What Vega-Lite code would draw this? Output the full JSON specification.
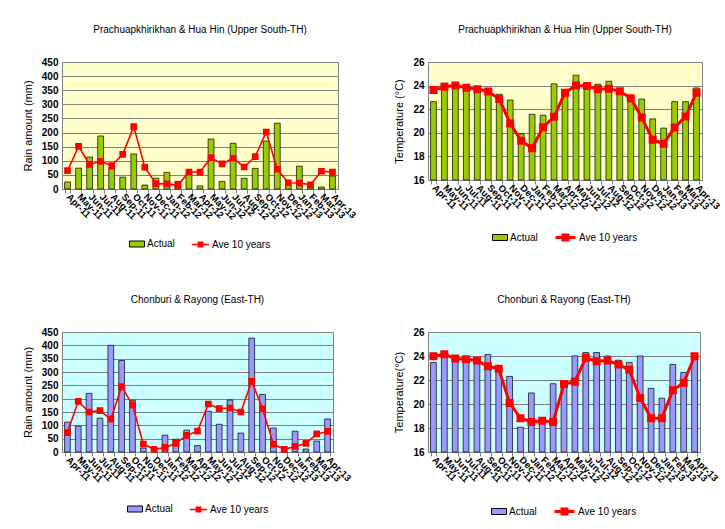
{
  "$schema": "https://vega.github.io/schema/vega-lite/v6.json",
  "background": "white",
  "padding": {"left": 21, "top": 24, "right": 5, "bottom": 5},
  "datasets": {
    "climate": [
      {"region": "US", "month": "Apr-11", "rainActual": 25, "rainAve": 65, "tempActual": 22.64, "tempAve": 23.62},
      {"region": "US", "month": "May-11", "rainActual": 74, "rainAve": 151, "tempActual": 24.2, "tempAve": 23.9},
      {"region": "US", "month": "Jun-11", "rainActual": 113, "rainAve": 87, "tempActual": 24.1, "tempAve": 24.0},
      {"region": "US", "month": "Jul-11", "rainActual": 188, "rainAve": 98, "tempActual": 23.62, "tempAve": 23.82},
      {"region": "US", "month": "Aug-11", "rainActual": 71, "rainAve": 83, "tempActual": 23.7, "tempAve": 23.7},
      {"region": "US", "month": "Sep-11", "rainActual": 42, "rainAve": 123, "tempActual": 23.6, "tempAve": 23.5},
      {"region": "US", "month": "Oct-11", "rainActual": 124, "rainAve": 221, "tempActual": 23.27, "tempAve": 22.86},
      {"region": "US", "month": "Nov-11", "rainActual": 14, "rainAve": 77, "tempActual": 22.78, "tempAve": 20.79},
      {"region": "US", "month": "Dec-11", "rainActual": 38, "rainAve": 19, "tempActual": 19.92, "tempAve": 19.33},
      {"region": "US", "month": "Jan-12", "rainActual": 59, "rainAve": 18, "tempActual": 21.57, "tempAve": 18.69},
      {"region": "US", "month": "Feb-12", "rainActual": 27, "rainAve": 13, "tempActual": 21.49, "tempAve": 20.48},
      {"region": "US", "month": "Mar-12", "rainActual": 55, "rainAve": 60, "tempActual": 24.15, "tempAve": 21.35},
      {"region": "US", "month": "Apr-12", "rainActual": 11, "rainAve": 60, "tempActual": 23.45, "tempAve": 23.4},
      {"region": "US", "month": "May-12", "rainActual": 177, "rainAve": 111, "tempActual": 24.88, "tempAve": 24.0},
      {"region": "US", "month": "Jun-12", "rainActual": 27, "rainAve": 89, "tempActual": 23.98, "tempAve": 23.96},
      {"region": "US", "month": "Jul-12", "rainActual": 162, "rainAve": 109, "tempActual": 24.12, "tempAve": 23.7},
      {"region": "US", "month": "Aug-12", "rainActual": 38, "rainAve": 78, "tempActual": 24.37, "tempAve": 23.73},
      {"region": "US", "month": "Sep-12", "rainActual": 73, "rainAve": 115, "tempActual": 23.68, "tempAve": 23.53},
      {"region": "US", "month": "Oct-12", "rainActual": 170, "rainAve": 202, "tempActual": 22.92, "tempAve": 22.92},
      {"region": "US", "month": "Nov-12", "rainActual": 233, "rainAve": 70, "tempActual": 22.86, "tempAve": 21.29},
      {"region": "US", "month": "Dec-12", "rainActual": 15, "rainAve": 22, "tempActual": 21.18, "tempAve": 19.41},
      {"region": "US", "month": "Jan-13", "rainActual": 81, "rainAve": 21, "tempActual": 20.4, "tempAve": 19.08},
      {"region": "US", "month": "Feb-13", "rainActual": 13, "rainAve": 15, "tempActual": 22.64, "tempAve": 20.45},
      {"region": "US", "month": "Mar-13", "rainActual": 7, "rainAve": 63, "tempActual": 22.64, "tempAve": 21.38},
      {"region": "US", "month": "Apr-13", "rainActual": 46, "rainAve": 60, "tempActual": 23.8, "tempAve": 23.4},
      {"region": "E", "month": "Apr-11", "rainActual": 112, "rainAve": 73, "tempActual": 23.46, "tempAve": 23.98},
      {"region": "E", "month": "May-11", "rainActual": 97, "rainAve": 190, "tempActual": 24.26, "tempAve": 24.15},
      {"region": "E", "month": "Jun-11", "rainActual": 220, "rainAve": 150, "tempActual": 23.79, "tempAve": 23.79},
      {"region": "E", "month": "Jul-11", "rainActual": 127, "rainAve": 155, "tempActual": 23.73, "tempAve": 23.73},
      {"region": "E", "month": "Aug-11", "rainActual": 400, "rainAve": 123, "tempActual": 23.6, "tempAve": 23.62},
      {"region": "E", "month": "Sep-11", "rainActual": 343, "rainAve": 245, "tempActual": 24.12, "tempAve": 23.15},
      {"region": "E", "month": "Oct-11", "rainActual": 194, "rainAve": 177, "tempActual": 23.15, "tempAve": 22.93},
      {"region": "E", "month": "Nov-11", "rainActual": 15, "rainAve": 30, "tempActual": 22.3, "tempAve": 20.09},
      {"region": "E", "month": "Dec-11", "rainActual": 4, "rainAve": 10, "tempActual": 18.07, "tempAve": 18.82},
      {"region": "E", "month": "Jan-12", "rainActual": 63, "rainAve": 17, "tempActual": 20.92, "tempAve": 18.51},
      {"region": "E", "month": "Feb-12", "rainActual": 48, "rainAve": 32, "tempActual": 18.5, "tempAve": 18.6},
      {"region": "E", "month": "Mar-12", "rainActual": 82, "rainAve": 62, "tempActual": 21.69, "tempAve": 18.51},
      {"region": "E", "month": "Apr-12", "rainActual": 24, "rainAve": 78, "tempActual": 21.88, "tempAve": 21.66},
      {"region": "E", "month": "May-12", "rainActual": 153, "rainAve": 180, "tempActual": 24.01, "tempAve": 21.86},
      {"region": "E", "month": "Jun-12", "rainActual": 104, "rainAve": 163, "tempActual": 24.29, "tempAve": 23.85},
      {"region": "E", "month": "Jul-12", "rainActual": 195, "rainAve": 165, "tempActual": 24.29, "tempAve": 23.57},
      {"region": "E", "month": "Aug-12", "rainActual": 71, "rainAve": 150, "tempActual": 24.0, "tempAve": 23.62},
      {"region": "E", "month": "Sep-12", "rainActual": 427, "rainAve": 265, "tempActual": 23.65, "tempAve": 23.3},
      {"region": "E", "month": "Oct-12", "rainActual": 216, "rainAve": 162, "tempActual": 23.46, "tempAve": 22.85},
      {"region": "E", "month": "Nov-12", "rainActual": 90, "rainAve": 29, "tempActual": 24.0, "tempAve": 20.5},
      {"region": "E", "month": "Dec-12", "rainActual": 3, "rainAve": 10, "tempActual": 21.3, "tempAve": 18.82},
      {"region": "E", "month": "Jan-13", "rainActual": 78, "rainAve": 21, "tempActual": 20.48, "tempAve": 18.82},
      {"region": "E", "month": "Feb-13", "rainActual": 11, "rainAve": 32, "tempActual": 23.3, "tempAve": 21.14},
      {"region": "E", "month": "Mar-13", "rainActual": 41, "rainAve": 68, "tempActual": 22.63, "tempAve": 21.77},
      {"region": "E", "month": "Apr-13", "rainActual": 124, "rainAve": 77, "tempActual": 23.8, "tempAve": 23.98}
    ]
  },
  "data": {"name": "climate"},
  "columns": 2,
  "bounds": "flush",
  "spacing": {"row": 143, "column": 90},
  "resolve": {
    "scale": {"x": "independent", "y": "independent", "fill": "independent", "stroke": "independent"},
    "legend": {"fill": "independent", "stroke": "independent"}
  },
  "concat": [
    {
      "width": 276, "height": 127,
      "view": {"fill": "#FFFFCC", "stroke": "#808080"},
      "title": {"text": "Prachuapkhirikhan & Hua Hin (Upper South-TH)"},
      "transform": [{"filter": "datum.region === 'US'"}],
      "encoding": {"x": {"field": "month", "type": "nominal", "sort": null, "scale": {"paddingInner": 0.47}}},
      "layer": [
        {
          "mark": {"type": "bar", "stroke": "#000000", "strokeWidth": 0.7},
          "encoding": {
            "y": {"field": "rainActual", "type": "quantitative", "scale": {"domain": [0, 450]},
                  "axis": {"title": "Rain amount (mm)", "values": [0, 50, 100, 150, 200, 250, 300, 350, 400, 450], "gridValues": [100]}},
            "fill": {"datum": "Actual", "type": "nominal", "scale": {"range": ["#99CC00"]},
                     "legend": {"symbolType": "M-1,-0.4H1V0.4H-1Z", "symbolSize": 225, "symbolStrokeColor": "#000000", "symbolStrokeWidth": 1}}
          }
        },
        {
          "mark": {"type": "line", "strokeWidth": 1.6, "point": {"shape": "square", "size": 22, "filled": true, "fill": "#FF0000", "stroke": "#FF0000"}},
          "encoding": {
            "y": {"field": "rainAve", "type": "quantitative",
                  "axis": {"title": "Rain amount (mm)", "values": [0, 50, 100, 150, 200, 250, 300, 350, 400, 450], "gridValues": [100]}},
            "stroke": {"datum": "Ave 10 years", "type": "nominal", "scale": {"range": ["#FF0000"]},
                       "legend": {"symbolType": "M-1,0H1M-0.25,-0.25H0.25V0.25H-0.25Z", "symbolSize": 300, "symbolStrokeWidth": 1.5, "symbolFillColor": "#FF0000"}}
          }
        }
      ]
    },
    {
      "width": 274, "height": 118,
      "view": {"fill": "#FFFFCC", "stroke": "#808080"},
      "title": {"text": "Prachuapkhirikhan & Hua Hin (Upper South-TH)"},
      "transform": [{"filter": "datum.region === 'US'"}],
      "encoding": {"x": {"field": "month", "type": "nominal", "sort": null, "scale": {"paddingInner": 0.47}}},
      "layer": [
        {
          "mark": {"type": "bar", "stroke": "#000000", "strokeWidth": 0.7},
          "encoding": {
            "y": {"field": "tempActual", "type": "quantitative", "scale": {"domain": [16, 26], "zero": false},
                  "axis": {"title": "Temperature (°C)", "values": [16, 18, 20, 22, 24, 26]}},
            "y2": {"datum": 16},
            "fill": {"datum": "Actual", "type": "nominal", "scale": {"range": ["#99CC00"]},
                     "legend": {"symbolType": "M-1,-0.4H1V0.4H-1Z", "symbolSize": 225, "symbolStrokeColor": "#000000", "symbolStrokeWidth": 1}}
          }
        },
        {
          "mark": {"type": "line", "strokeWidth": 3, "point": {"shape": "square", "size": 36, "filled": true, "fill": "#FF0000", "stroke": "#FF0000"}},
          "encoding": {
            "y": {"field": "tempAve", "type": "quantitative",
                  "axis": {"title": "Temperature (°C)", "values": [16, 18, 20, 22, 24, 26]}},
            "stroke": {"datum": "Ave 10 years", "type": "nominal", "scale": {"range": ["#FF0000"]},
                       "legend": {"symbolType": "M-1,0H1M-0.25,-0.25H0.25V0.25H-0.25Z", "symbolSize": 400, "symbolStrokeWidth": 3, "symbolFillColor": "#FF0000"}}
          }
        }
      ]
    },
    {
      "width": 271, "height": 120,
      "view": {"fill": "#CCFFFF", "stroke": "#808080"},
      "title": {"text": "Chonburi & Rayong (East-TH)"},
      "transform": [{"filter": "datum.region === 'E'"}],
      "encoding": {"x": {"field": "month", "type": "nominal", "sort": null, "scale": {"paddingInner": 0.47}}},
      "layer": [
        {
          "mark": {"type": "bar", "stroke": "#000000", "strokeWidth": 0.7},
          "encoding": {
            "y": {"field": "rainActual", "type": "quantitative", "scale": {"domain": [0, 450]},
                  "axis": {"title": "Rain amount (mm)", "values": [0, 50, 100, 150, 200, 250, 300, 350, 400, 450]}},
            "fill": {"datum": "Actual", "type": "nominal", "scale": {"range": ["#9999FF"]},
                     "legend": {"symbolType": "M-1,-0.4H1V0.4H-1Z", "symbolSize": 225, "symbolStrokeColor": "#000000", "symbolStrokeWidth": 1, "offset": 16}}
          }
        },
        {
          "mark": {"type": "line", "strokeWidth": 1.6, "point": {"shape": "square", "size": 22, "filled": true, "fill": "#FF0000", "stroke": "#FF0000"}},
          "encoding": {
            "y": {"field": "rainAve", "type": "quantitative",
                  "axis": {"title": "Rain amount (mm)", "values": [0, 50, 100, 150, 200, 250, 300, 350, 400, 450]}},
            "stroke": {"datum": "Ave 10 years", "type": "nominal", "scale": {"range": ["#FF0000"]},
                       "legend": {"symbolType": "M-1,0H1M-0.25,-0.25H0.25V0.25H-0.25Z", "symbolSize": 300, "symbolStrokeWidth": 1.5, "symbolFillColor": "#FF0000", "offset": 16}}
          }
        }
      ]
    },
    {
      "width": 272, "height": 120,
      "view": {"fill": "#CCFFFF", "stroke": "#808080"},
      "title": {"text": "Chonburi & Rayong (East-TH)"},
      "transform": [{"filter": "datum.region === 'E'"}],
      "encoding": {"x": {"field": "month", "type": "nominal", "sort": null, "scale": {"paddingInner": 0.47}}},
      "layer": [
        {
          "mark": {"type": "bar", "stroke": "#000000", "strokeWidth": 0.7},
          "encoding": {
            "y": {"field": "tempActual", "type": "quantitative", "scale": {"domain": [16, 26], "zero": false},
                  "axis": {"title": "Temperature(°C)", "values": [16, 18, 20, 22, 24, 26]}},
            "y2": {"datum": 16},
            "fill": {"datum": "Actual", "type": "nominal", "scale": {"range": ["#9999FF"]},
                     "legend": {"symbolType": "M-1,-0.4H1V0.4H-1Z", "symbolSize": 225, "symbolStrokeColor": "#000000", "symbolStrokeWidth": 1, "offset": 16}}
          }
        },
        {
          "mark": {"type": "line", "strokeWidth": 3, "point": {"shape": "square", "size": 36, "filled": true, "fill": "#FF0000", "stroke": "#FF0000"}},
          "encoding": {
            "y": {"field": "tempAve", "type": "quantitative",
                  "axis": {"title": "Temperature(°C)", "values": [16, 18, 20, 22, 24, 26]}},
            "stroke": {"datum": "Ave 10 years", "type": "nominal", "scale": {"range": ["#FF0000"]},
                       "legend": {"symbolType": "M-1,0H1M-0.25,-0.25H0.25V0.25H-0.25Z", "symbolSize": 400, "symbolStrokeWidth": 3, "symbolFillColor": "#FF0000", "offset": 16}}
          }
        }
      ]
    }
  ],
  "config": {
    "font": "Liberation Sans",
    "title": {"fontSize": 10, "fontWeight": "normal", "color": "#000000", "anchor": "middle", "frame": "group", "offset": 22},
    "axisX": {
      "title": null, "labelAngle": 45, "labelAlign": "left", "labelBaseline": "middle",
      "labelFontWeight": "bold", "labelFontSize": 9.5, "labelColor": "#000000", "labelOverlap": false,
      "tickBand": "extent", "tickColor": "#808080", "tickSize": 4, "domainColor": "#808080",
      "labelPadding": 2, "grid": false
    },
    "axisY": {
      "labelFontWeight": "bold", "labelFontSize": 10, "labelColor": "#000000", "ticks": false, "domain": false,
      "labelOverlap": false, "labelFlush": false,
      "gridColor": "#808080", "gridWidth": 1, "gridOpacity": 1, "labelPadding": 4,
      "titleFontSize": 11, "titleFontWeight": "normal", "titleColor": "#000000", "titlePadding": 8
    },
    "legend": {
      "orient": "bottom", "direction": "horizontal", "title": null, "labelFontSize": 10,
      "labelColor": "#000000", "offset": 14, "symbolOffset": 0, "labelOffset": 2,
      "layout": {"bottom": {"anchor": "middle", "direction": "horizontal", "margin": 16, "center": true}}
    }
  }
}
